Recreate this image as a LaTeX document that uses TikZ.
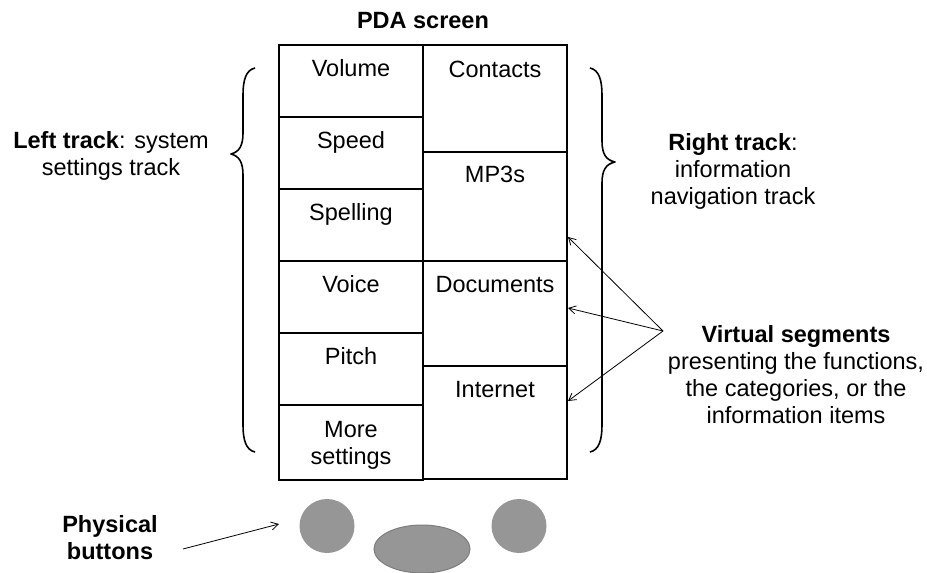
\documentclass[tikz,border=0pt]{standalone}
\usepackage{fontspec}
\setmainfont{Liberation Sans}
\usetikzlibrary{shapes.geometric,arrows.meta,calc}
\definecolor{btnfill}{RGB}{150,150,150}
\definecolor{btnline}{RGB}{125,125,125}
\begin{document}
\begin{tikzpicture}[x=1pt,y=-1pt,
  font=\fontsize{23.5}{27}\selectfont,
  cell/.style={draw, line width=1.8pt, minimum width=144pt, inner sep=0pt},
  lbl/.style={inner sep=0pt, anchor=base, align=center},
  brace/.style={line width=1.6pt, line join=round},
  pointer/.style={line width=0.8pt, -{Straight Barb[length=7pt,width=8pt]}},
  btn/.style={ellipse, fill=btnfill, inner sep=0pt}]
\useasboundingbox (0,0) rectangle (927,573);

% left column cells
\node[cell, minimum height=72pt] (volume)   at (351,81)    {};
\node[cell, minimum height=72pt] (speed)    at (351,153)   {};
\node[cell, minimum height=72pt] (spelling) at (351,225)   {};
\node[cell, minimum height=72pt] (voice)    at (351,297)   {};
\node[cell, minimum height=72pt] (pitch)    at (351,369)   {};
\node[cell, minimum height=75pt] (more)     at (351,442.5) {};
% right column cells
\node[cell, minimum height=107pt] (contacts) at (495,98.5)  {};
\node[cell, minimum height=109pt] (mp3)      at (495,206.5) {};
\node[cell, minimum height=105pt] (docs)     at (495,313.5) {};
\node[cell, minimum height=113pt] (internet) at (495,422.5) {};

% cell texts (base anchor = baseline of the last line)
\node[lbl] (volumeT)   at ([yshift=-32pt]volume.north)   {Volume};
\node[lbl] (speedT)    at ([yshift=-32pt]speed.north)    {Speed};
\node[lbl] (spellingT) at ([yshift=-32pt]spelling.north) {Spelling};
\node[lbl] (voiceT)    at ([yshift=-32pt]voice.north)    {Voice};
\node[lbl] (pitchT)    at ([yshift=-32pt]pitch.north)    {Pitch};
\node[lbl] (moreT)     at ([yshift=-60pt]more.north)     {More\\settings};
\node[lbl] (contactsT) at ([yshift=-33pt]contacts.north) {Contacts};
\node[lbl] (mp3T)      at ([yshift=-31pt]mp3.north)      {MP3s};
\node[lbl] (docsT)     at ([yshift=-32pt]docs.north)     {Documents};
\node[lbl] (internetT) at ([yshift=-32pt]internet.north) {Internet};

% titles and side labels
\node[lbl, font=\fontsize{23.5}{27}\selectfont\bfseries] (title) at (423,28) {PDA screen};
\node[lbl] (lefttrack)  at (111,175) {\textbf{Left track}: system\\settings track};
\node[lbl] (righttrack) at (733,204) {\textbf{Right track}:\\information\\navigation track};
\node[lbl] (virtual)    at (796,423) {\textbf{Virtual segments}\\presenting the functions,\\the categories, or the\\information items};
\node[lbl] (physical)   at (110,559) {\textbf{Physical}\\\textbf{buttons}};

% braces
\draw[brace] (255,68) .. controls (246,70) and (243,80) .. (243,95)
  -- (243,133) .. controls (243,146) and (239,152) .. (231,154)
  .. controls (239,156) and (243,162) .. (243,175)
  -- (243,425) .. controls (243,440) and (246,450) .. (255,452);
\draw[brace] (590,68) .. controls (599,70) and (602,80) .. (602,95)
  -- (602,141) .. controls (602,154) and (606,160) .. (615,162)
  .. controls (606,164) and (602,170) .. (602,183)
  -- (602,425) .. controls (602,440) and (599,450) .. (590,452);

% buttons
\node[btn, minimum width=55pt, minimum height=54pt] (btnL) at (327,526) {};
\node[btn, minimum width=55pt, minimum height=54pt] (btnR) at (519,526) {};
\node[btn, draw=btnline, line width=1pt, minimum width=96pt, minimum height=48pt] (btnC) at (422,549) {};

% pointers
\coordinate (vsrc) at (663,331);
\coordinate (tipA) at (568,237);
\coordinate (tipB) at (568,308);
\coordinate (tipC) at (568,401);
\draw[pointer] (vsrc) -- (tipA);
\draw[pointer] (vsrc) -- (tipB);
\draw[pointer] (vsrc) -- (tipC);
\coordinate (psrc) at (183,549);
\coordinate (ptip) at (279,524);
\draw[pointer] (psrc) -- (ptip);
\end{tikzpicture}
\end{document}
